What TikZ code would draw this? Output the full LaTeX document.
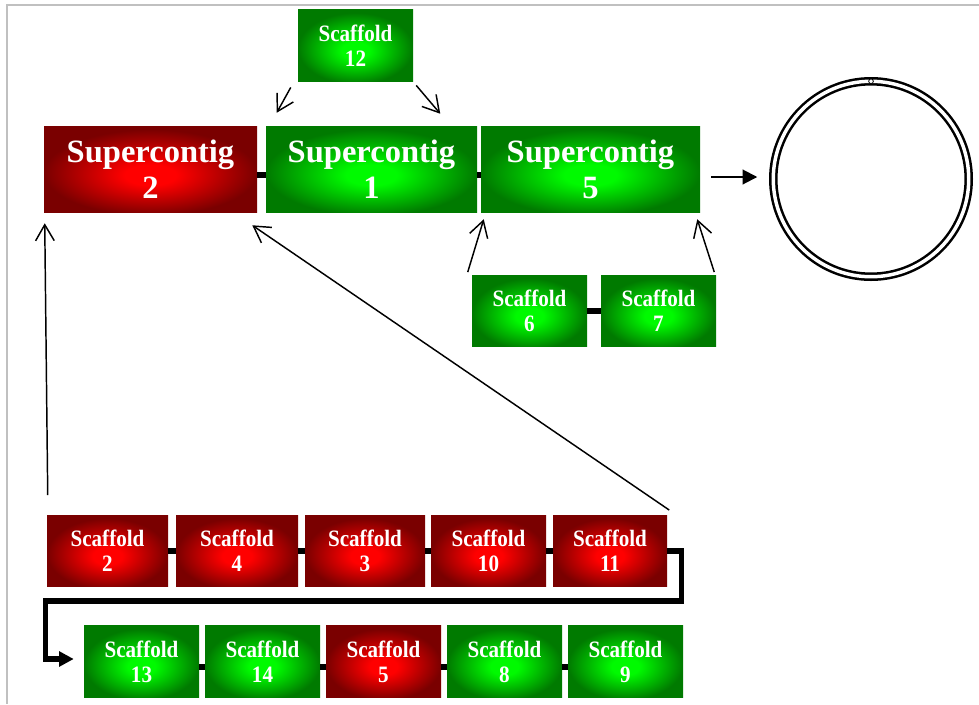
\documentclass[tikz,border=0pt]{standalone}
\usepackage{fontspec}
\setmainfont{Liberation Serif}
\newfontfamily\narrowSerif{Liberation Serif}[FakeStretch=0.9]
\usepackage{tikz}
\usepackage{xcolor}
\usetikzlibrary{arrows.meta}
\definecolor{redLight}{RGB}{255,0,0}
\definecolor{redDark}{RGB}{122,0,0}
\definecolor{greenLight}{RGB}{0,250,0}
\definecolor{greenDark}{RGB}{0,122,0}
\definecolor{frameGray}{RGB}{192,192,192}
\newcommand\superFont{\fontsize{24.4}{27}\selectfont\bfseries}
\newcommand\scaffFont{\narrowSerif\fontsize{17.6}{18.8}\selectfont\bfseries}
\pgfdeclareradialshading{redGlow}{\pgfpoint{0bp}{-4bp}}{color(0bp)=(redLight); color(6bp)=(redLight); color(25bp)=(redDark); color(50bp)=(redDark)}
\pgfdeclareradialshading{greenGlow}{\pgfpoint{0bp}{-4bp}}{color(0bp)=(greenLight); color(6bp)=(greenLight); color(25bp)=(greenDark); color(50bp)=(greenDark)}

\begin{document}
\begin{tikzpicture}[x=0.75pt, y=-0.75pt,
    seqBlock/.style={inner sep=0pt, align=center, text=white},
    redBlock/.style={seqBlock, shading=redGlow},
    greenBlock/.style={seqBlock, shading=greenGlow},
    superBlock/.style={font=\superFont, minimum height=64.5pt},
    scaffBlock/.style={font=\scaffFont, minimum width=86.25pt, minimum height=53.5pt},
    link/.style={line width=3.8pt},
    thinArrow/.style={line width=1.1pt, -{Straight Barb[length=12pt, width=14pt]}},
    fatArrow/.style={-{Triangle[length=11pt, width=11pt]}}]
    \useasboundingbox (0,0) rectangle (979,704);
    \draw[frameGray, line width=1.5pt] (979,5) -- (7,5) -- (7,704);

    \node[greenBlock, scaffBlock] (scaf12) at (355.5,45.5) {Scaffold\\12};

    \node[redBlock, superBlock, minimum width=159.75pt] (sup2) at (150.5,169) {Supercontig\\2};
    \node[greenBlock, superBlock, minimum width=158.25pt] (sup1) at (371.5,169) {Supercontig\\1};
    \node[greenBlock, superBlock, minimum width=164.25pt] (sup5) at (590.5,169) {Supercontig\\5};
    \draw[link] ([yshift=-4.5pt]sup2.east) -- ([yshift=-4.5pt]sup1.west);
    \draw[link] ([yshift=-4.5pt]sup1.east) -- ([yshift=-4.5pt]sup5.west);

    \node[greenBlock, scaffBlock] (scaf6) at (529.5,311) {Scaffold\\6};
    \node[greenBlock, scaffBlock] (scaf7) at (658.5,311) {Scaffold\\7};
    \draw[link] (scaf6) -- (scaf7);

    \node[circle, draw, double, line width=1.9pt, double distance=2.6pt, outer sep=0pt,
        minimum size=146.6pt, inner sep=0pt] (genome) at (871,179) {};
    \node[circle, draw, fill=white, inner sep=0pt, minimum size=3.5pt, line width=0.6pt] (origin) at (genome.north) {};
    \draw[fatArrow, line width=1.5pt] ([shift={(11,8)}]sup5.east) -- ([shift={(-16,-2)}]genome.west);

    \node[redBlock, scaffBlock, minimum width=90.75pt] (scaf2) at (107.5,551) {Scaffold\\2};
    \node[redBlock, scaffBlock, minimum width=91.5pt] (scaf4) at (237,551) {Scaffold\\4};
    \node[redBlock, scaffBlock, minimum width=90pt] (scaf3) at (365,551) {Scaffold\\3};
    \node[redBlock, scaffBlock] (scaf10) at (488.5,551) {Scaffold\\10};
    \node[redBlock, scaffBlock, minimum width=85.5pt] (scaf11) at (610,551) {Scaffold\\11};
    \draw[link] (scaf2) -- (scaf4) (scaf4) -- (scaf3) (scaf3) -- (scaf10) (scaf10) -- (scaf11);

    \node[greenBlock, scaffBlock] (scaf13) at (141.5,661.5) {Scaffold\\13};
    \node[greenBlock, scaffBlock] (scaf14) at (262.5,661.5) {Scaffold\\14};
    \node[redBlock, scaffBlock] (scaf5) at (383.5,661.5) {Scaffold\\5};
    \node[greenBlock, scaffBlock] (scaf8) at (504.5,661.5) {Scaffold\\8};
    \node[greenBlock, scaffBlock] (scaf9) at (625.5,661.5) {Scaffold\\9};
    \draw[link] ([yshift=-4.1pt]scaf13.east) -- ([yshift=-4.1pt]scaf14.west);
    \draw[link] ([yshift=-4.1pt]scaf14.east) -- ([yshift=-4.1pt]scaf5.west);
    \draw[link] ([yshift=-4.1pt]scaf5.east) -- ([yshift=-4.1pt]scaf8.west);
    \draw[link] ([yshift=-4.1pt]scaf8.east) -- ([yshift=-4.1pt]scaf9.west);

    \draw[link, fatArrow] (scaf11.east) -- ++(14,0) -- ++(0,50) -| ([shift={(-38,-2.5)}]scaf13.west)
        -- ([shift={(-10,-2.5)}]scaf13.west);

    \draw[thinArrow] ([shift={(-7,6)}]scaf12.south west) -- ([shift={(11,-13)}]sup1.north west);
    \draw[thinArrow] ([shift={(3,4)}]scaf12.south east) -- ([shift={(-37,-12)}]sup1.north east);
    \draw[thinArrow] ([shift={(1,-20)}]scaf2.north west) -- ([shift={(1,11)}]sup2.south west);
    \draw[thinArrow] ([shift={(2,-5)}]scaf11.north east) -- ([shift={(-5,13)}]sup2.south east);
    \draw[thinArrow] ([shift={(-4,-3)}]scaf6.north west) -- ([shift={(3,7)}]sup5.south west);
    \draw[thinArrow] ([shift={(-2,-3)}]scaf7.north east) -- ([shift={(-3,7)}]sup5.south east);
\end{tikzpicture}
\end{document}
